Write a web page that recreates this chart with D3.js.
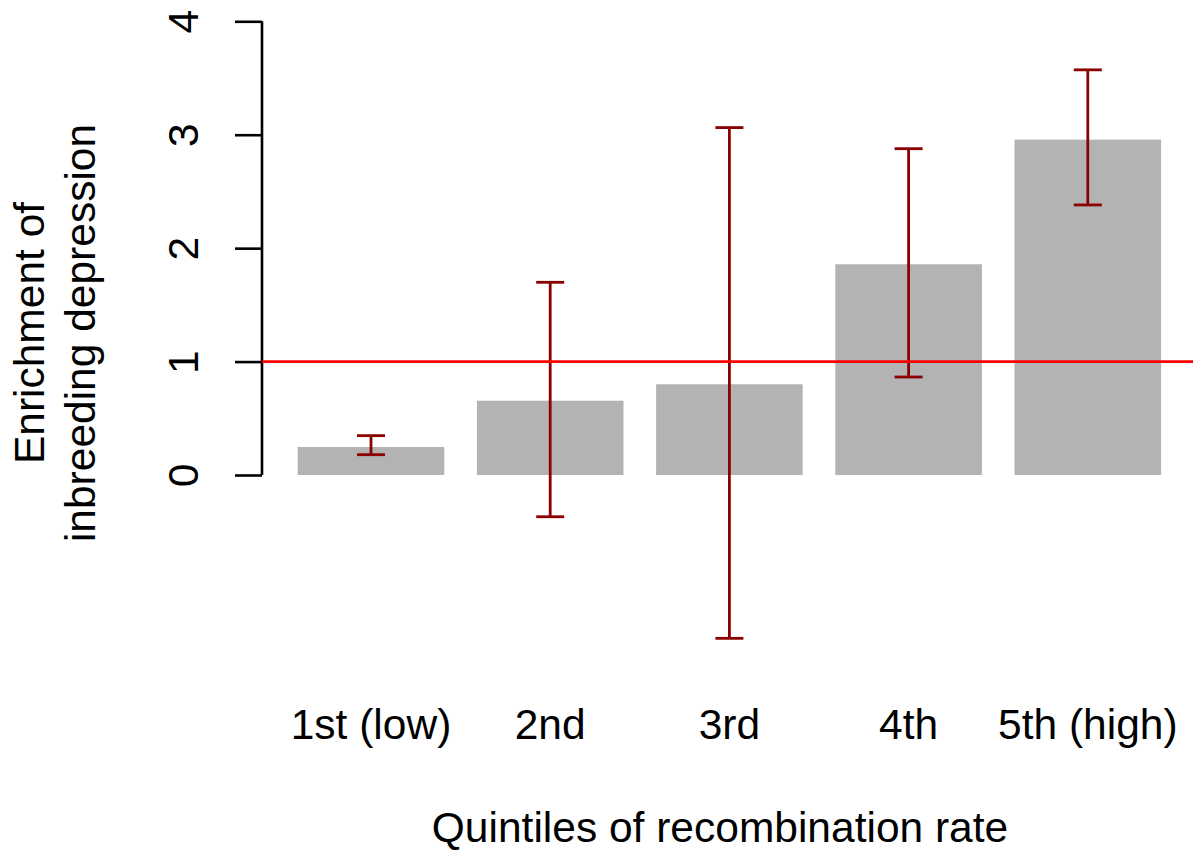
<!DOCTYPE html>
<html>
<head>
<meta charset="utf-8">
<script src="https://cdn.jsdelivr.net/npm/d3@7"></script>
<style>
  html, body { margin: 0; padding: 0; background: #ffffff; }
  svg { display: block; }
  text { font-family: "Liberation Sans", Arial, Helvetica, sans-serif; fill: #000; }
</style>
</head>
<body>
<svg id="chart" width="1193" height="852"></svg>
<script>
// Enrichment of inbreeding depression by recombination-rate quintile
const categories = ["1st (low)", "2nd", "3rd", "4th", "5th (high)"];
const enrichment = [0.247, 0.655, 0.80, 1.858, 2.957];
const ciLower    = [0.179, -0.368, -1.44, 0.864, 2.381];
const ciUpper    = [0.347, 1.699, 3.063, 2.877, 3.572];
const yTicks     = [0, 1, 2, 3, 4];
const reference  = 1;

const W = 1193, H = 852;
const svg = d3.select("#chart");

const y = d3.scaleLinear().domain([0, 4]).range([475, 21.3]);
const x = d3.scaleBand()
  .domain(categories)
  .range([281.4, 1177.4])
  .paddingInner(0.182)
  .paddingOuter(0.091);

const axisX = 262;
const fontSize = 42.5;

// bars
svg.append("g").selectAll("rect")
  .data(categories)
  .join("rect")
  .attr("x", d => x(d))
  .attr("width", x.bandwidth())
  .attr("y", (d, i) => y(enrichment[i]))
  .attr("height", (d, i) => y(0) - y(enrichment[i]))
  .attr("fill", "#b3b3b3");

// confidence intervals
const capHalf = 14;
const eb = svg.append("g")
  .attr("stroke", "#8b0000")
  .attr("stroke-width", 2.8)
  .attr("fill", "none");
categories.forEach((c, i) => {
  const cx = x(c) + x.bandwidth() / 2;
  eb.append("line")
    .attr("x1", cx).attr("x2", cx)
    .attr("y1", y(ciLower[i])).attr("y2", y(ciUpper[i]));
  [ciLower[i], ciUpper[i]].forEach(v => {
    eb.append("line")
      .attr("x1", cx - capHalf).attr("x2", cx + capHalf)
      .attr("y1", y(v)).attr("y2", y(v));
  });
});

// y axis (R style: rotated labels parallel to the axis)
const yAxis = d3.axisLeft(y)
  .tickValues(yTicks)
  .tickSize(27)
  .tickPadding(0)
  .tickFormat(d3.format("d"));
const gy = svg.append("g")
  .attr("transform", `translate(${axisX},0)`)
  .call(yAxis);
gy.select(".domain")
  .attr("d", `M0,${y(0)}V${y(4)}`)
  .attr("stroke", "#000")
  .attr("stroke-width", 2.6);
gy.selectAll(".tick line")
  .attr("stroke", "#000")
  .attr("stroke-width", 2.6);
gy.selectAll(".tick text")
  .attr("x", null).attr("dy", null)
  .attr("transform", "translate(-64,0) rotate(-90)")
  .attr("text-anchor", "middle")
  .style("font-size", fontSize + "px")
  .style("font-family", "'Liberation Sans', Arial, sans-serif")
  .attr("fill", "#000");

// reference line at 1
svg.append("line")
  .attr("x1", axisX).attr("x2", W)
  .attr("y1", y(reference)).attr("y2", y(reference))
  .attr("stroke", "#ff0000")
  .attr("stroke-width", 2.6);

// category labels
svg.append("g").selectAll("text")
  .data(categories)
  .join("text")
  .attr("x", d => x(d) + x.bandwidth() / 2)
  .attr("y", 739)
  .attr("text-anchor", "middle")
  .style("font-size", fontSize + "px")
  .text(d => d);

// axis titles
svg.append("text")
  .attr("x", 720)
  .attr("y", 842)
  .attr("text-anchor", "middle")
  .style("font-size", fontSize + "px")
  .text("Quintiles of recombination rate");

const yTitle = svg.append("text")
  .attr("transform", "translate(0,333) rotate(-90)")
  .attr("text-anchor", "middle")
  .style("font-size", fontSize + "px");
yTitle.append("tspan").attr("x", 0).attr("y", 44).text("Enrichment of");
yTitle.append("tspan").attr("x", 0).attr("y", 95).text("inbreeding depression");
</script>
</body>
</html>
